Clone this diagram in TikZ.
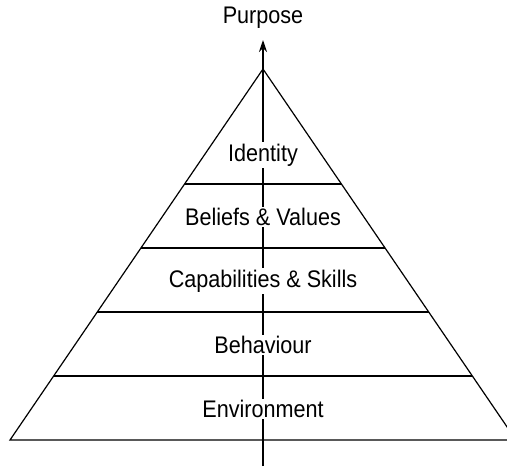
\documentclass[tikz,border=0pt]{standalone}
\usepackage{fontspec}
\setmainfont[FakeStretch=0.9]{Liberation Sans}
\usetikzlibrary{arrows.meta,calc}
\begin{document}
\begin{tikzpicture}[x=1pt,y=-1pt,
  ln/.style={line width=1.2pt,black},
  lbl/.style={font=\fontsize{24}{28}\selectfont,fill=white,inner sep=1.5pt}]
\useasboundingbox (0,0) rectangle (507,472);
\clip (0,0) rectangle (507,472);
\coordinate (apex) at (263,69);
\coordinate (bl) at (10,440);
\coordinate (br) at (516,440);
\coordinate (tip) at (263,40);
\coordinate (bot) at (263,466);
\draw[ln] (bl) -- (apex) -- (br) -- cycle;
\foreach \y in {184,248,312,376}{
  \draw[ln] ($(bl)!{(440-\y)/371}!(apex)$) -- ($(br)!{(440-\y)/371}!(apex)$);
}
\draw[ln,-{Stealth[length=12pt,width=8pt]}] (bot) -- (tip);
\node[lbl] (id) at (263,155) {Identity};
\node[lbl] (bv) at (263,217) {Beliefs \& Values};
\node[lbl] (cs) at (263,281) {Capabilities \& Skills};
\node[lbl] (bh) at (263,345) {Behaviour};
\node[lbl] (en) at (263,409) {Environment};
\node[lbl,fill=none] (pu) at (263,18) {Purpose};
\end{tikzpicture}
\end{document}
